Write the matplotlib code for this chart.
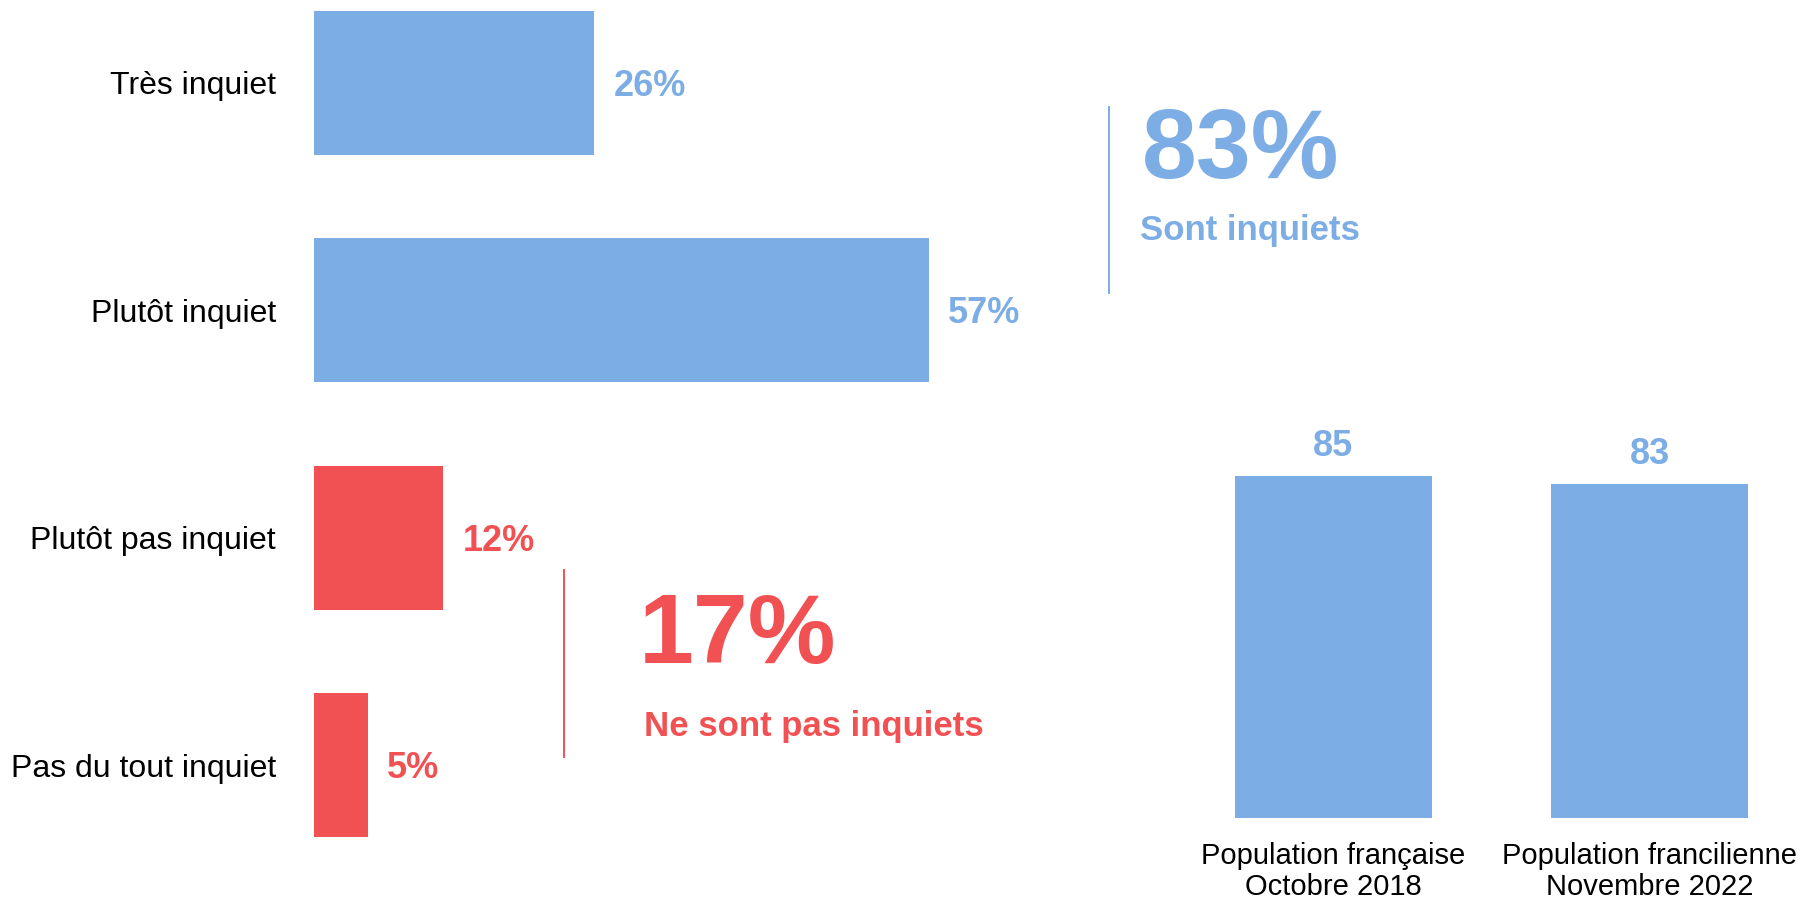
import matplotlib
matplotlib.use("Agg")
import matplotlib.pyplot as plt
from matplotlib.lines import Line2D

plt.rcParams["font.family"] = ["Liberation Sans", "DejaVu Sans"]

# left chart: level of concern
categories = ["Très inquiet", "Plutôt inquiet", "Plutôt pas inquiet", "Pas du tout inquiet"]
values = [26, 57, 12, 5]
worried_total = 83
not_worried_total = 17

# right chart: comparison of surveys
surveys = ["Population française\nOctobre 2018", "Population francilienne\nNovembre 2022"]
survey_values = [85, 83]

blue = "#7DADE5"
red = "#F15152"
colors = [blue, blue, red, red]

W, H = 1805, 900
fig = plt.figure(figsize=(W / 100, H / 100), dpi=100)

# ---- left horizontal bars
ax = fig.add_axes([314 / W, 43.7 / H, 646 / W, 856.3 / H])
ypos = list(range(len(categories)))
ax.barh(ypos, values, height=0.634, color=colors)
ax.set_xlim(0, 59.9)
ax.set_ylim(3.4, -0.364)
ax.set_yticks(ypos)
ax.set_yticklabels(categories, fontsize=23)
ax.tick_params(axis="y", length=0, pad=27.4)
ax.set_xticks([])
for s in ax.spines.values():
    s.set_visible(False)

for y, v, c in zip(ypos, values, colors):
    ax.annotate(f"{v}%", (v, y), xytext=(14, -9.4), textcoords="offset points",
                va="baseline", ha="left", fontsize=26, fontweight="bold", color=c)

# bracket lines and totals
fig.add_artist(Line2D([564 / W, 564 / W], [1 - 570 / H, 1 - 757 / H], color=red, lw=1.4))
fig.add_artist(Line2D([1109 / W, 1109 / W], [1 - 107 / H, 1 - 293 / H], color=blue, lw=1.4))

fig.text(1142 / W, 1 - 178.3 / H, f"{worried_total}%", fontsize=71, fontweight="bold",
         color=blue, va="baseline", ha="left")
fig.text(1140 / W, 1 - 240 / H, "Sont inquiets", fontsize=25, fontweight="bold",
         color=blue, va="baseline", ha="left")
fig.text(639 / W, 1 - 663 / H, f"{not_worried_total}%", fontsize=71, fontweight="bold",
         color=red, va="baseline", ha="left")
fig.text(643.5 / W, 1 - 736 / H, "Ne sont pas inquiets", fontsize=25, fontweight="bold",
         color=red, va="baseline", ha="left")

# ---- right vertical bars
ax2 = fig.add_axes([1175.5 / W, 82 / H, 632 / W, 402.5 / H])
xpos = list(range(len(surveys)))
ax2.bar(xpos, survey_values, width=0.625, color=blue)
ax2.set_xlim(-0.5, 1.5)
ax2.set_ylim(0, 100)
ax2.set_xticks(xpos)
ax2.set_xticklabels(surveys, fontsize=21, linespacing=1.15)
ax2.tick_params(axis="x", length=0, pad=17)
ax2.set_yticks([])
for s in ax2.spines.values():
    s.set_visible(False)
for x, v in zip(xpos, survey_values):
    ax2.annotate(f"{v}", (x, v), xytext=(0, 14.4), textcoords="offset points",
                 va="baseline", ha="center", fontsize=26, fontweight="bold", color=blue)

fig.savefig("out.png", dpi=100, facecolor="white")
